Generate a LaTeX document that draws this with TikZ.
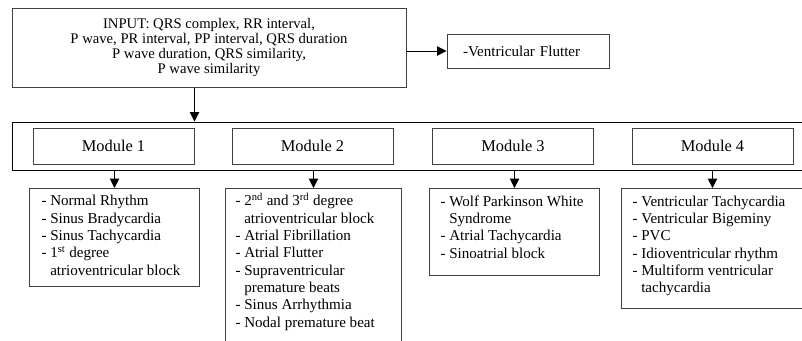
\documentclass[tikz,border=0pt]{standalone}
\usepackage{fontspec}
\setmainfont{Liberation Serif}
\usetikzlibrary{arrows.meta}
\tikzset{every picture/.style={line width=0.75pt}}
\tikzset{
  boxline/.style={draw=black!75, inner sep=0pt},
  inbox/.style={boxline, align=center, font=\fontsize{11}{11.25}\selectfont},
  modbox/.style={boxline, minimum width=120.75pt, minimum height=27pt, font=\fontsize{12.3}{14}\selectfont},
  listbox/.style={boxline, anchor=north west},
  listtext/.style={anchor=base west, align=left, inner sep=0pt, font=\fontsize{11.3}{13}\selectfont},
  arr/.style={-{Triangle[length=7pt,width=7pt]}}
}

\begin{document}
\begin{tikzpicture}[x=0.75pt,y=0.75pt,yscale=-1,xscale=1]
\useasboundingbox (0,0) rectangle (802,340);
\clip (0,0) rectangle (802,340);

%Shape: Rectangle (input)
\node[inbox, minimum width=295.5pt, minimum height=59.25pt] (input) at (209,47.5)
  {INPUT: QRS complex, RR interval,\\P wave, PR interval, PP interval, QRS duration\\P wave duration, QRS similarity,\\P wave similarity};
%Shape: Rectangle (flutter)
\node[boxline, text width=97.5pt, inner xsep=12pt, minimum height=25.5pt, align=left,
  font=\fontsize{11.3}{13}\selectfont] (flutter) at (528,51) {-Ventricular Flutter};

%Shape: Rectangle (frame round the modules)
\node[draw, inner sep=0pt, minimum width=600pt, minimum height=36pt] (frame) at (412,146) {};
% Text Node
\node[modbox] (mod1) at (113.5,146) {Module 1};
% Text Node
\node[modbox] (mod2) at (312.5,146) {Module 2};
% Text Node
\node[modbox] (mod3) at (513,146) {Module 3};
% Text Node
\node[modbox] (mod4) at (712.5,146) {Module 4};

%Shape: Rectangle (lists)
\node[listbox, minimum width=127.5pt, minimum height=73.5pt] (list1) at (29,188) {};
\node[listbox, minimum width=132pt, minimum height=127.5pt] (list2) at (225,188) {};
\node[listbox, minimum width=127.5pt, minimum height=65.25pt] (list3) at (429,188) {};
\node[listbox, minimum width=142.5pt, minimum height=90pt] (list4) at (621,188) {};

% Text Node (placed at the baseline of the last line)
\node[listtext] (txt1) at (41,275.3) {- Normal Rhythm\\- Sinus Bradycardia\\- Sinus Tachycardia\\- 1\textsuperscript{st} degree\\\hphantom{- }atrioventricular block};
% Text Node
\node[listtext] (txt2) at (235,327.3) {- 2\textsuperscript{nd} and 3\textsuperscript{rd} degree\\\hphantom{- }atrioventricular block\\- Atrial Fibrillation\\- Atrial Flutter\\- Supraventricular\\\hphantom{- }premature beats\\- Sinus Arrhythmia\\- Nodal premature beat};
% Text Node
\node[listtext] (txt3) at (440,258) {- Wolf Parkinson White\\\hphantom{- }Syndrome\\- Atrial Tachycardia\\- Sinoatrial block};
% Text Node
\node[listtext] (txt4) at (632,292.7) {- Ventricular Tachycardia\\- Ventricular Bigeminy\\- PVC\\- Idioventricular rhythm\\- Multiform ventricular\\\hphantom{- }tachycardia};

%Straight Lines
\draw[arr] (input.east |- flutter) -- (flutter);
\draw[arr] (input.south -| mod1.east) -- (frame.north -| mod1.east);
\draw[arr] (frame.south -| list1) -- (list1);
\draw[arr] (frame.south -| list2) -- (list2);
\draw[arr] (frame.south -| list3) -- (list3);
\draw[arr] (frame.south -| mod4) -- (list4.north -| mod4);

\end{tikzpicture}
\end{document}
